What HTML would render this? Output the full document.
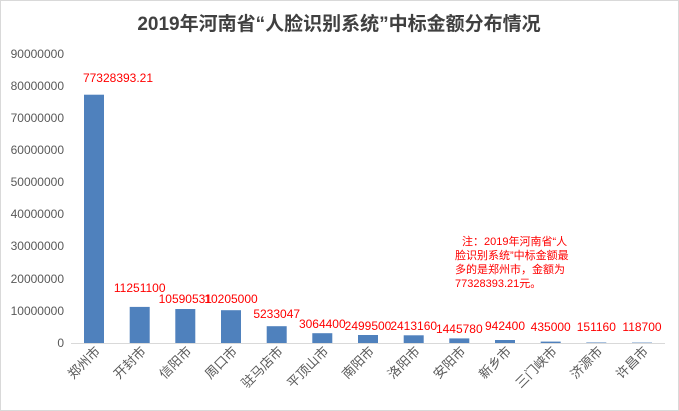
<!DOCTYPE html><html><head><meta charset="utf-8"><style>body{margin:0;background:#fff}svg{display:block}</style></head><body>
<svg width="679" height="411" xmlns="http://www.w3.org/2000/svg" font-family="Liberation Sans, Noto Sans CJK SC, sans-serif">
<rect x="0.5" y="0.5" width="678" height="410" fill="#fff" stroke="#d9d9d9"/>
<text x="339" y="30" text-anchor="middle" font-size="19" font-weight="bold" fill="#404040">2019年河南省“人脸识别系统”中标金额分布情况</text>
<g font-size="12" fill="#595959" text-anchor="end">
<text x="64" y="58">90000000</text><text x="64" y="90">80000000</text><text x="64" y="122">70000000</text><text x="64" y="154">60000000</text><text x="64" y="186">50000000</text><text x="64" y="218">40000000</text><text x="64" y="250">30000000</text><text x="64" y="283">20000000</text><text x="64" y="315">10000000</text><text x="64" y="347">0</text>
</g>
<line x1="71" y1="343.5" x2="665" y2="343.5" stroke="#d9d9d9"/>
<g fill="#4f81bd">
<rect x="84" y="94.7" width="20" height="248.3"/>
<rect x="129.7" y="306.9" width="20" height="36.1"/>
<rect x="175.3" y="309" width="20" height="34"/>
<rect x="221" y="310.2" width="20" height="32.8"/>
<rect x="266.7" y="326.2" width="20" height="16.8"/>
<rect x="312.3" y="333.2" width="20" height="9.8"/>
<rect x="358" y="335" width="20" height="8"/>
<rect x="403.7" y="335.3" width="20" height="7.7"/>
<rect x="449.3" y="338.4" width="20" height="4.6"/>
<rect x="495" y="340" width="20" height="3"/>
<rect x="540.7" y="341.6" width="20" height="1.4"/>
<rect x="586.3" y="342.5" width="20" height="0.5"/>
<rect x="632" y="342.6" width="20" height="0.4"/>
</g>
<g font-size="12" fill="#ff0000" text-anchor="middle">
<text x="118" y="82">77328393.21</text>
<text x="139.7" y="292">11251100</text>
<text x="185.3" y="303">10590531</text>
<text x="231" y="303">10205000</text>
<text x="276.7" y="318">5233047</text>
<text x="322.3" y="328">3064400</text>
<text x="368" y="330">2499500</text>
<text x="413.7" y="330">2413160</text>
<text x="459.3" y="333">1445780</text>
<text x="505" y="330">942400</text>
<text x="550.7" y="331">435000</text>
<text x="596.3" y="331">151160</text>
<text x="642" y="331">118700</text>
</g>
<g font-size="11" fill="#ff0000">
<text x="462" y="245">注：2019年河南省“人</text>
<text x="455" y="259">脸识别系统”中标金额最</text>
<text x="455" y="273">多的是郑州市，金额为</text>
<text x="455" y="287">77328393.21元。</text>
</g>
<g font-size="13" fill="#595959" text-anchor="end">
<text transform="translate(101,352) rotate(-45)">郑州市</text>
<text transform="translate(146.7,352) rotate(-45)">开封市</text>
<text transform="translate(192.3,352) rotate(-45)">信阳市</text>
<text transform="translate(238,352) rotate(-45)">周口市</text>
<text transform="translate(283.7,352) rotate(-45)">驻马店市</text>
<text transform="translate(329.3,352) rotate(-45)">平顶山市</text>
<text transform="translate(375,352) rotate(-45)">南阳市</text>
<text transform="translate(420.7,352) rotate(-45)">洛阳市</text>
<text transform="translate(466.3,352) rotate(-45)">安阳市</text>
<text transform="translate(512,352) rotate(-45)">新乡市</text>
<text transform="translate(557.7,352) rotate(-45)">三门峡市</text>
<text transform="translate(603.3,352) rotate(-45)">济源市</text>
<text transform="translate(649,352) rotate(-45)">许昌市</text>
</g>
</svg>
</body></html>
